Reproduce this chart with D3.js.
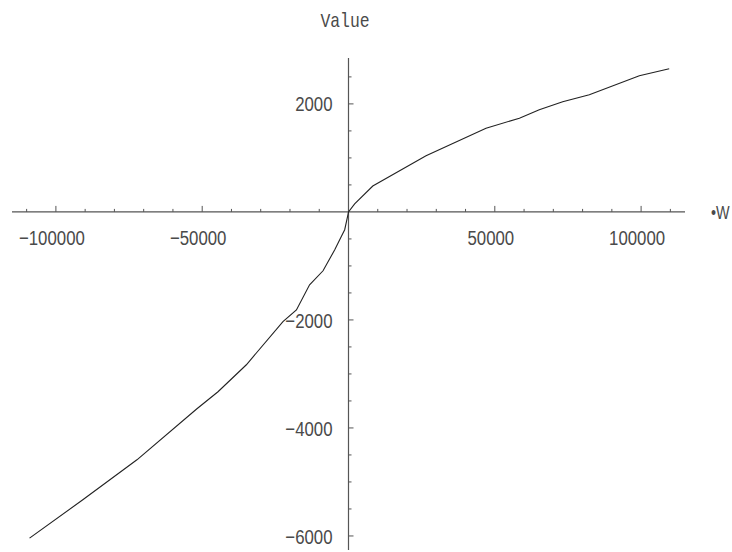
<!DOCTYPE html>
<html>
<head>
<meta charset="utf-8">
<script src="https://cdn.jsdelivr.net/npm/d3@7"></script>
<style>
  body { margin: 0; background: #fff; }
  svg { display: block; }
</style>
</head>
<body>
<script>
// values
const wValues = [-109000, -90800, -72300, -51900, -44600, -34900, -22400, -17800, -13300, -8700, -4700, -2500, -1300, -200, 0, 2100, 8300, 26500, 47000, 58400, 65200, 73200, 82300, 99400, 109600]
const vValues = [-6040, -5330, -4590, -3650, -3330, -2830, -2030, -1815, -1350, -1090, -700, -460, -330, -55, 0, 150, 480, 1040, 1550, 1735, 1890, 2040, 2170, 2520, 2650]

const xMajor = [-100000, -50000, 50000, 100000]
const yMajor = [2000, -2000, -4000, -6000]

const width = 732, height = 552

const x = d3.scaleLinear().domain([-115000, 115000]).range([12, 685])
const y = d3.scaleLinear().domain([-6260, 2850]).range([550, 58])

const svg = d3.select('body').append('svg')
    .attr('width', width)
    .attr('height', height)

const axisColor = '#555'
const labelFont = '"Liberation Sans", Arial, sans-serif'
const squeeze = 0.8

// text drawn narrower than the installed font
const narrowText = (g, tx, ty, str, opts) => {
    const t = g.append('g')
        .attr('transform', `translate(${tx},${ty}) scale(${opts.sx ?? squeeze},1)`)
        .append('text')
        .attr('text-anchor', opts.anchor ?? 'start')
        .attr('font-family', opts.font ?? labelFont)
        .attr('font-size', opts.size ?? 21)
        .attr('fill', '#4a4a4a')
        .text(str)
    if (opts.dy) t.attr('dy', opts.dy)
    return t
}

// horizontal axis
svg.append('line')
    .attr('x1', x.range()[0]).attr('x2', x.range()[1])
    .attr('y1', y(0)).attr('y2', y(0))
    .attr('stroke', axisColor).attr('stroke-width', 1.2)

const xMinor = d3.range(-110000, 115000, 10000).filter(d => d !== 0)
svg.append('g').selectAll('line')
    .data(xMinor)
    .join('line')
    .attr('x1', d => x(d)).attr('x2', d => x(d))
    .attr('y1', y(0))
    .attr('y2', d => y(0) - (d % 50000 === 0 ? 6 : 3))
    .attr('stroke', axisColor)

const xLabels = svg.append('g')
xMajor.forEach(d => narrowText(xLabels, x(d) - 4, y(0) + 33, d3.format('d')(d), {anchor: 'middle'}))

// vertical axis
svg.append('line')
    .attr('x1', x(0)).attr('x2', x(0))
    .attr('y1', y.range()[1]).attr('y2', y.range()[0])
    .attr('stroke', axisColor).attr('stroke-width', 1.2)

const yMinor = d3.range(-6000, 2600, 500).filter(d => d !== 0)
svg.append('g').selectAll('line')
    .data(yMinor)
    .join('line')
    .attr('x1', x(0))
    .attr('x2', d => x(0) + (d % 2000 === 0 ? 5 : 3))
    .attr('y1', d => y(d)).attr('y2', d => y(d))
    .attr('stroke', axisColor)

const yLabels = svg.append('g')
yMajor.forEach(d => narrowText(yLabels, x(0) - 16, y(d), d3.format('d')(d), {anchor: 'end', dy: '0.36em'}))

// axis labels
narrowText(svg, 345, 27, 'Value', {anchor: 'middle', font: '"Liberation Mono", monospace', size: 20, sx: 0.82})
narrowText(svg, 711, y(0) + 7, '\u2022W', {size: 18, sx: 0.8})

// curve
const pts = wValues.map((w, i) => [w, vValues[i]])
svg.append('path')
    .datum(pts)
    .attr('fill', 'none')
    .attr('stroke', '#222')
    .attr('stroke-width', 1.1)
    .attr('d', d3.line().x(d => x(d[0])).y(d => y(d[1])))
</script>
</body>
</html>
